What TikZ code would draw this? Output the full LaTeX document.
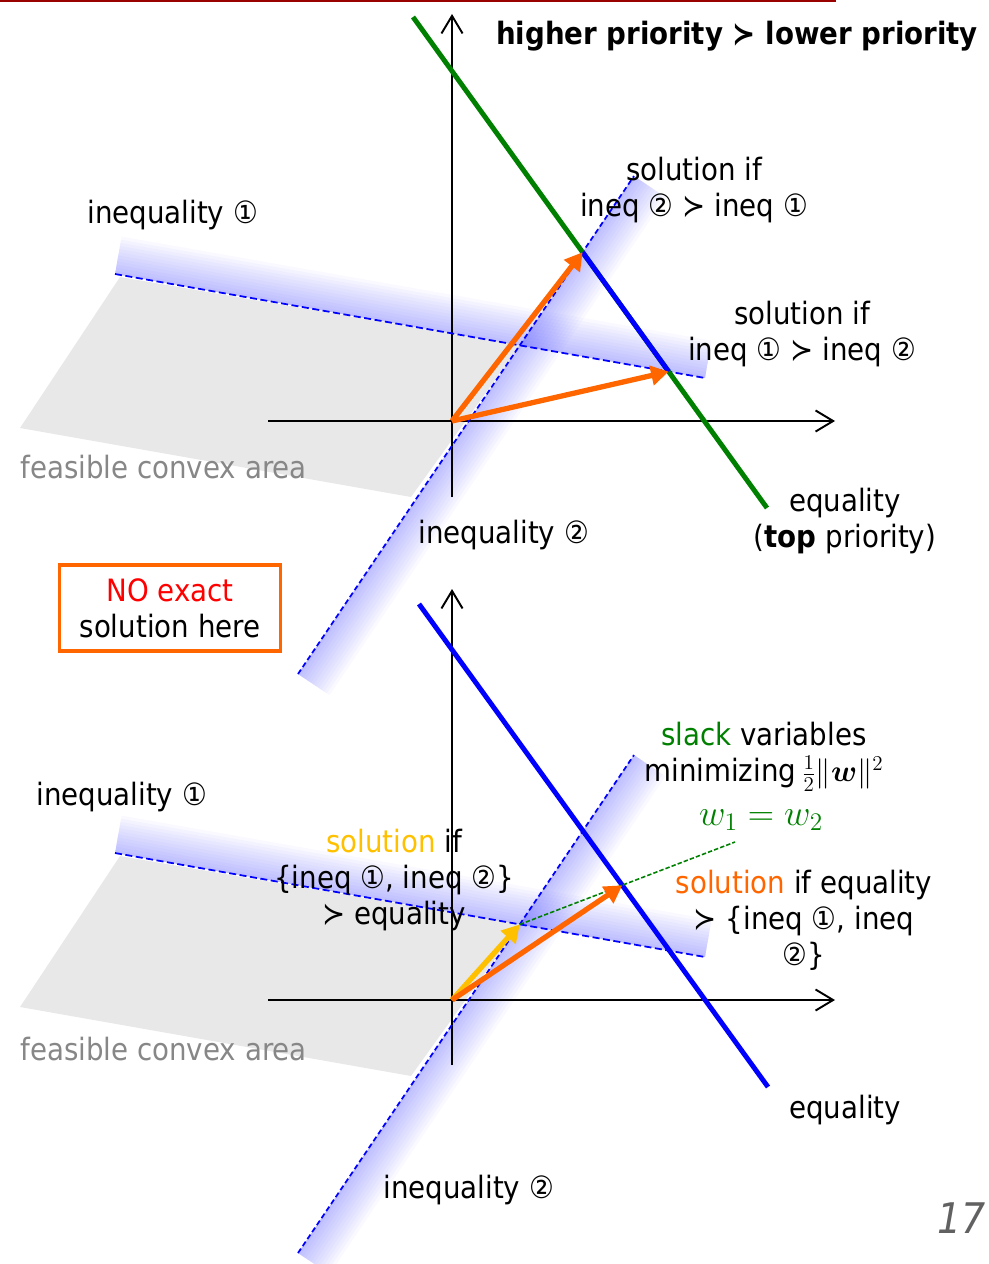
\documentclass[tikz,border=0pt]{standalone}
\usepackage{fontspec}
\setmainfont{DejaVu Sans}[FakeStretch=0.9]
\usepackage{bm}
\usetikzlibrary{arrows.meta,calc}

\definecolor{eqgreen}{RGB}{0,128,0}
\definecolor{solorange}{RGB}{255,102,0}
\definecolor{solyellow}{RGB}{255,192,0}
\definecolor{areagray}{RGB}{232,232,232}
\definecolor{slidered}{RGB}{153,0,0}

\newcommand{\lblsize}{\fontsize{17.5}{20.5}\selectfont}

% soft blue glow on one side of an inequality border
\newcommand{\glowband}[4]{%
  \foreach \k in {1,...,12}{%
    \fill[blue, fill opacity=0.022]
      (#1) -- (#2) -- ($(#2)!\k*1.8pt!#4:(#1)$) -- ($(#1)!\k*1.8pt!#3:(#2)$) -- cycle;
  }%
}

\tikzset{
  axisline/.style={line width=1.1pt, -{Straight Barb[length=10pt,width=12pt]}},
  eqline/.style={line width=2.8pt},
  ineqline/.style={blue, line width=1pt, dash pattern=on 4pt off 2pt},
  ineqlinetwo/.style={blue, line width=1pt, dash pattern=on 3pt off 1.8pt},
  slackline/.style={eqgreen, line width=0.9pt, dash pattern=on 2.5pt off 1.2pt},
  solarrow/.style={line width=3pt, -{Triangle[length=10pt,width=11pt]}},
  txt/.style={font=\lblsize, align=center, inner sep=0pt},
  feasible/.style={txt, text=black!47, anchor=west},
}

\begin{document}
\begin{tikzpicture}[x=0.02cm, y=-0.02cm]
  \useasboundingbox (0,0) rectangle (988,1264);
  \draw[slidered, line width=1.2pt] (0,1) -- (836,1);

  % ---- top: equality has top priority
  \coordinate (O1) at (452,421);
  \coordinate (E1a) at (413,17);
  \coordinate (E1b) at (767,508);
  \coordinate (I1a) at (115,274);
  \coordinate (I1b) at (705,378);
  \coordinate (I2a) at (298,674);
  \coordinate (I2b) at (634,176);
  \coordinate (P21) at (intersection of E1a--E1b and I2a--I2b);
  \coordinate (P12) at (intersection of E1a--E1b and I1a--I1b);
  \coordinate (P0) at (intersection of I1a--I1b and I2a--I2b);

  \fill[areagray] (120,277) -- (20,428) -- (411,497) -- (P0) -- cycle;
  \glowband{I1a}{I1b}{90}{-90}
  \glowband{I2a}{I2b}{-90}{90}
  \draw[axisline] (268,421) -- (835,421);
  \draw[axisline] (452,497) -- (452,14);
  \draw[ineqline] (I1a) -- (I1b);
  \draw[ineqlinetwo] (I2a) -- (I2b);
  \draw[eqline, eqgreen] (E1a) -- (E1b);
  \draw[eqline, blue] (P21) -- (P12);
  \draw[solarrow, solorange] (O1) -- (P21);
  \draw[solarrow, solorange] (O1) -- (P12);

  \node[txt, font=\lblsize\bfseries] (title) at (737,36) {higher priority ≻ lower priority};
  \node[txt, anchor=west] (ineqOneA) at (87,215) {inequality ①};
  \node[txt] (solTwoOne) at (694,190) {solution if\\ineq ② ≻ ineq ①};
  \node[txt] (solOneTwo) at (802,334) {solution if\\ineq ① ≻ ineq ②};
  \node[feasible] (areaA) at (20,467) {feasible convex area};
  \node[txt, anchor=west] (ineqTwoA) at (418,535) {inequality ②};
  \node[txt] (eqA) at (845,521) {equality\\(\textbf{top} priority)};
  \node[txt, draw=solorange, line width=2.2pt, minimum width=4.42cm, minimum height=1.72cm]
    (noexact) at (170,608) {\textcolor{red}{NO exact}\\solution here};

  % ---- bottom: slack variables
  \coordinate (O2) at (452,1000);
  \coordinate (E2a) at (419,604);
  \coordinate (E2b) at (768,1087);
  \coordinate (I1c) at (115,853);
  \coordinate (I1d) at (705,957);
  \coordinate (I2c) at (298,1253);
  \coordinate (I2d) at (634,755);
  \coordinate (P0b) at (intersection of I1c--I1d and I2c--I2d);
  \coordinate (G) at (735,842);
  \coordinate (Q) at (intersection of P0b--G and E2a--E2b);

  \fill[areagray] (120,856) -- (20,1007) -- (411,1076) -- (P0b) -- cycle;
  \glowband{I1c}{I1d}{90}{-90}
  \glowband{I2c}{I2d}{-90}{90}
  \draw[axisline] (268,1000) -- (835,1000);
  \draw[axisline] (452,1065) -- (452,589);
  \draw[ineqline] (I1c) -- (I1d);
  \draw[ineqlinetwo] (I2c) -- (I2d);
  \draw[eqline, blue] (E2a) -- (E2b);
  \draw[slackline] (P0b) -- (G);
  \draw[solarrow, solyellow] (O2) -- (P0b);
  \draw[solarrow, solorange] (O2) -- (Q);

  \node[txt, anchor=west] (ineqOneB) at (36,797) {inequality ①};
  \node[txt] (slack) at (764,757) {\textcolor{eqgreen}{slack} variables\\minimizing\,$\frac{1}{2}\|\bm{w}\|^2$};
  \node[txt, text=eqgreen, font=\fontsize{21}{24}\selectfont] (wequal) at (761,820) {$w_1 = w_2$};
  \node[txt] (solIneq) at (394,880) {\textcolor{solyellow}{solution} if\\\{ineq ①, ineq ②\}\\≻ equality};
  \node[txt] (solEq) at (804,920) {\textcolor{solorange}{solution} if equality\\≻ \{ineq ①, ineq\\②\}};
  \node[feasible] (areaB) at (20,1049) {feasible convex area};
  \node[txt, anchor=west] (eqB) at (789,1110) {equality};
  \node[txt, anchor=west] (ineqTwoB) at (383,1190) {inequality ②};
  \node[txt, anchor=east, font=\fontsize{24}{28}\selectfont\itshape, text=black!62] (pagenum) at (986,1218) {17};
\end{tikzpicture}
\end{document}
